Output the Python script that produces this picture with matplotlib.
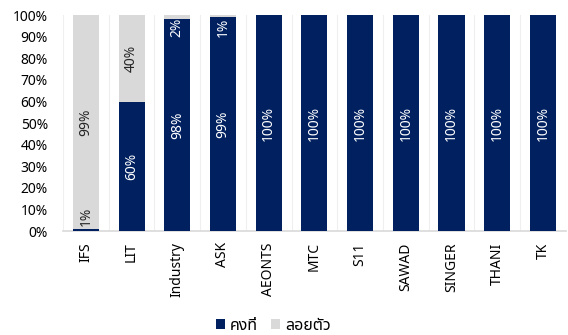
import numpy as np
import matplotlib
matplotlib.use('Agg')
import matplotlib.pyplot as plt
from matplotlib.ticker import PercentFormatter

# ข้อมูล
categories = ['IFS', 'LIT', 'Industry', 'ASK', 'AEONTS', 'MTC', 'S11', 'SAWAD', 'SINGER', 'THANI', 'TK']
fixed = [1, 60, 98, 99, 100, 100, 100, 100, 100, 100, 100]
floating = [99, 40, 2, 1, 0, 0, 0, 0, 0, 0, 0]
series_names = ['คงที่', 'ลอยตัว']

navy = '#002060'
grey = '#D9D9D9'

plt.rcParams['font.family'] = ['Noto Sans', 'Noto Sans Thai', 'DejaVu Sans']
plt.rcParams['font.size'] = 10

fig = plt.figure(figsize=(5.68, 3.35), dpi=100)
ax = fig.add_axes([0.111, 0.31, 0.885, 0.645])

x = np.arange(len(categories))
w = 0.57
b1 = ax.bar(x, fixed, w, color=navy, label=series_names[0], zorder=3)
b2 = ax.bar(x, floating, w, bottom=fixed, color=grey, label=series_names[1], zorder=3)

# ป้ายตัวเลข (ขยับเข้ามาในกรอบถ้าชิดขอบ แล้วเลือกสีตามพื้นหลัง)
for i in range(len(categories)):
    for val, bot in [(fixed[i], 0), (floating[i], fixed[i])]:
        if val <= 0:
            continue
        c = bot + val / 2
        c = min(max(c, 7), 94.5)
        col = 'white' if c < fixed[i] else '#262626'
        ax.text(x[i], c, f'{val}%', rotation=90, ha='center', va='center',
                color=col, fontsize=10, zorder=4)

ax.set_xlim(-0.5, len(categories) - 0.5)
ax.set_ylim(0, 100)
ax.set_yticks(np.arange(0, 101, 10))
ax.yaxis.set_major_formatter(PercentFormatter(decimals=0))
ax.set_xticks(x)
ax.set_xticklabels(categories, rotation=90)

# เส้นกริดแนวตั้งระหว่างหมวด
for k in range(len(categories) + 1):
    ax.axvline(k - 0.5, color='#EFEFEF', lw=0.8, zorder=1)

for s in ['top', 'right', 'left']:
    ax.spines[s].set_visible(False)
ax.spines['bottom'].set_color('#D9D9D9')
ax.spines['bottom'].set_linewidth(1.2)
ax.tick_params(axis='both', length=0, colors='black', labelsize=10)
ax.tick_params(axis='x', pad=8)
ax.tick_params(axis='y', pad=11)

fig.legend(handles=[b1, b2], loc='center', bbox_to_anchor=(0.481, 0.028), ncol=2,
           frameon=False, handlelength=0.6, handleheight=0.6, handletextpad=0.3,
           columnspacing=0.8, fontsize=11.5)

fig.savefig('out.png', dpi=100)
